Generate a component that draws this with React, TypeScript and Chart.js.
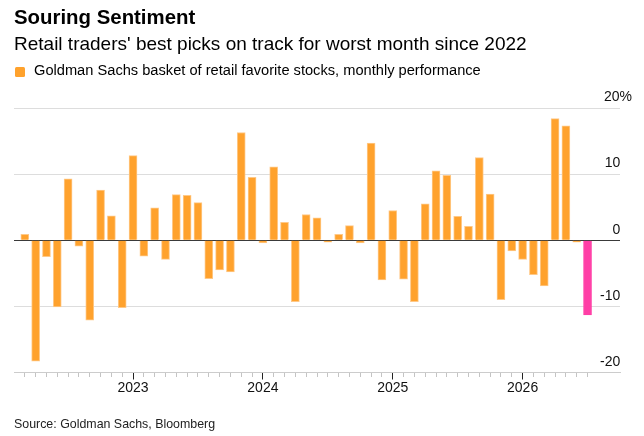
import { useEffect, useRef } from "react"
import { Chart, registerables } from "chart.js"

Chart.register(...registerables)

// first bar is March 2022, one bar per month
const startYear = 2022
const startMonth = 2 // 0-based, March
const performance = [
  0.9, -18.3, -2.5, -10.1, 9.3, -0.9, -12.1, 7.6, 3.7, -10.2,
  12.8, -2.4, 4.9, -2.9, 6.9, 6.8, 5.7, -5.8, -4.5, -4.8, 16.3, 9.5,
  -0.4, 11.1, 2.7, -9.3, 3.9, 3.4, -0.3, 0.9, 2.2, -0.4, 14.7, -6.0,
  4.5, -5.9, -9.3, 5.5, 10.5, 9.8, 3.6, 2.1, 12.5, 7.0, -9.0, -1.6,
  -2.9, -5.2, -6.9, 18.4, 17.3, -0.3, -11.3,
]
const yTicks = [-20, -10, 0, 10, 20]

const ORANGE = "#ffa22d"
const ORANGE_EDGE = "#ffc988"
const PINK = "#ff3ea6"
const FONT = "'Liberation Sans', Arial, sans-serif"

const monthOf = (i: number) => (startMonth + i) % 12
const yearOf = (i: number) => startYear + Math.floor((startMonth + i) / 12)

function BasketChart() {
  const chartRef = useRef<HTMLCanvasElement>(null)
  const chartInstance = useRef<Chart | null>(null)

  useEffect(() => {
    if (!chartRef.current) return
    if (chartInstance.current) chartInstance.current.destroy()
    const ctx = chartRef.current.getContext("2d")
    if (!ctx) return

    const last = performance.length - 1
    const points = performance.map((v, i) => ({ x: i, y: v }))

    chartInstance.current = new Chart(ctx, {
      type: "bar",
      data: {
        datasets: [
          {
            label: "Goldman Sachs basket of retail favorite stocks, monthly performance",
            data: points,
            backgroundColor: performance.map((_, i) => (i === last ? PINK : ORANGE)),
            borderColor: performance.map((_, i) => (i === last ? PINK : ORANGE_EDGE)),
            borderWidth: 1,
            barThickness: 8,
          },
        ],
      },
      options: {
        responsive: false,
        animation: false,
        layout: { padding: { top: 108, bottom: 39.7, left: 14, right: 0 } },
        plugins: { legend: { display: false }, tooltip: { enabled: false } },
        scales: {
          x: {
            type: "linear",
            position: "bottom",
            min: -1,
            max: 55,
            offset: false,
            afterBuildTicks: (axis: any) => {
              axis.ticks = performance.map((_, i) => ({ value: i }))
            },
            border: { display: true, color: "#cccccc", width: 1 },
            grid: {
              offset: false,
              drawOnChartArea: false,
              tickLength: 7,
              tickWidth: 1,
              tickColor: (c: any) => (monthOf(c.tick?.value ?? 1) === 0 ? "#222222" : "#c4c4c4"),
              tickBorderDash: (c: any) => (monthOf(c.tick?.value ?? 1) === 0 ? [] : [4, 30]),
            },
            ticks: {
              autoSkip: false,
              maxRotation: 0,
              padding: 0,
              color: "#111111",
              font: { family: FONT, size: 14 },
              callback: (v: any) => (monthOf(Number(v)) === 0 ? String(yearOf(Number(v))) : ""),
            },
          },
          y: {
            position: "right",
            min: -20,
            max: 20,
            afterBuildTicks: (axis: any) => {
              axis.ticks = yTicks.map((v) => ({ value: v }))
            },
            border: { display: false },
            grid: {
              drawTicks: false,
              color: (c: any) => (c.tick?.value === 0 ? "#3a3a3a" : "#dddddd"),
              lineWidth: 1,
            },
            ticks: {
              mirror: true,
              padding: 12,
              align: "end",
              labelOffset: -3.5,
              color: "#111111",
              font: { family: FONT, size: 14 },
              callback: (v: any) => (Number(v) === 20 ? "20%" : `${v}\u00a0\u00a0\u00a0`),
            },
          },
        },
      },
    } as any)

    return () => {
      if (chartInstance.current) chartInstance.current.destroy()
    }
  }, [])

  return <canvas ref={chartRef} width={644} height={436} style={{ position: "absolute", left: 0, top: 0 }} />
}

export default function App() {
  useEffect(() => {
    document.body.style.margin = "0"
  }, [])

  return (
    <div style={{ position: "relative", width: 644, height: 436, fontFamily: FONT, color: "#000", background: "#fff", overflow: "hidden" }}>
      <BasketChart />
      <div style={{ position: "absolute", left: 14, top: 7, fontSize: 20.4, fontWeight: 700, lineHeight: 1, whiteSpace: "nowrap" }}>
        Souring Sentiment
      </div>
      <div style={{ position: "absolute", left: 14, top: 34, fontSize: 19, lineHeight: 1, whiteSpace: "nowrap" }}>
        Retail traders' best picks on track for worst month since 2022
      </div>
      <div style={{ position: "absolute", left: 15, top: 67, width: 10, height: 10, background: ORANGE, borderRadius: 1.5 }} />
      <div style={{ position: "absolute", left: 34, top: 63, fontSize: 14.65, lineHeight: 1, whiteSpace: "nowrap" }}>
        Goldman Sachs basket of retail favorite stocks, monthly performance
      </div>
      <div style={{ position: "absolute", left: 14, top: 417.5, fontSize: 12.4, lineHeight: 1, color: "#222", whiteSpace: "nowrap" }}>
        Source: Goldman Sachs, Bloomberg
      </div>
    </div>
  )
}
